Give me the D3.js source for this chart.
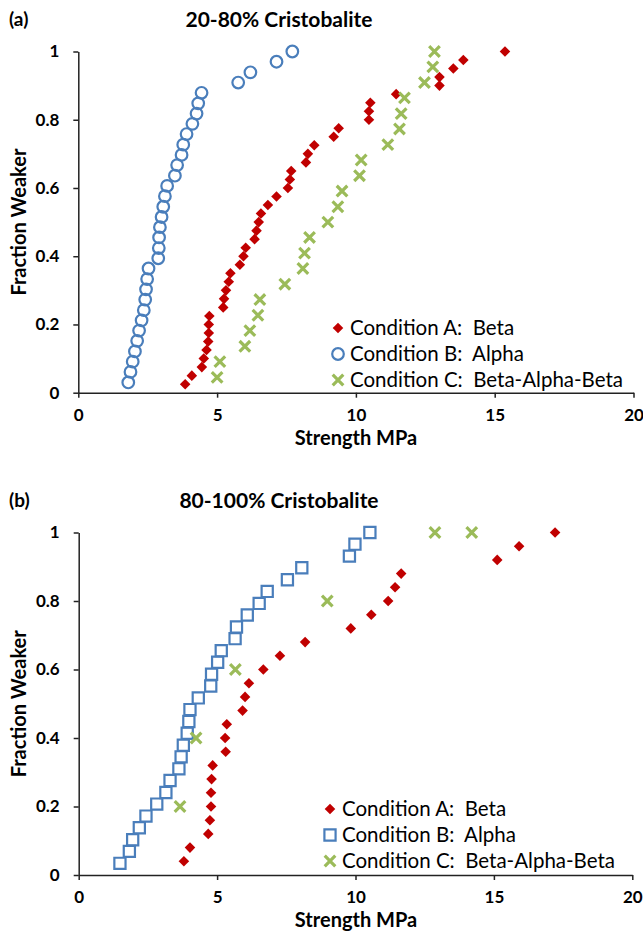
<!DOCTYPE html>
<html>
<head>
<meta charset="utf-8">
<script src="https://cdn.jsdelivr.net/npm/d3@7"></script>
<style>
body { margin: 0; background: #fff; }
text { font-family: Lato, "Open Sans", sans-serif; fill: #000; }
</style>
</head>
<body>
<svg id="chart" width="643" height="940"></svg>
<script>
// ########### DATA ###########

var xTicks = [0, 5, 10, 15, 20]
var yTicks = [0, 0.2, 0.4, 0.6, 0.8, 1]

var legendLabels = ['Condition A:  Beta', 'Condition B:  Alpha', 'Condition C:  Beta-Alpha-Beta']

// (a) 20-80% Cristobalite
var aBetaX = [3.85, 4.09, 4.45, 4.52, 4.62, 4.68, 4.70, 4.70, 4.72, 5.22, 5.25, 5.32, 5.42, 5.48, 5.82, 5.95, 6.03, 6.35, 6.42, 6.50,
  6.58, 6.83, 7.14, 7.55, 7.62, 7.67, 8.20, 8.27, 8.50, 9.20, 9.38, 10.47, 10.47, 10.52, 11.45, 13.01, 13.01, 13.51, 13.87, 15.37]
var aBetaY = [0.025, 0.05, 0.075, 0.1, 0.125, 0.15, 0.175, 0.2, 0.225, 0.25, 0.275, 0.3, 0.325, 0.35, 0.375, 0.4, 0.425, 0.45, 0.475, 0.5,
  0.525, 0.55, 0.575, 0.6, 0.625, 0.65, 0.675, 0.7, 0.725, 0.75, 0.775, 0.8, 0.825, 0.85, 0.875, 0.9, 0.925, 0.95, 0.975, 1]

var aAlphaX = [1.80, 1.88, 1.96, 2.04, 2.12, 2.19, 2.28, 2.36, 2.41, 2.44, 2.48, 2.53, 2.88, 2.90, 2.91, 2.94, 3.00, 3.06, 3.12, 3.20,
  3.48, 3.56, 3.72, 3.78, 3.90, 4.11, 4.26, 4.32, 4.44, 5.76, 6.20, 7.14, 7.71]
var aAlphaY = [0.030, 0.061, 0.091, 0.121, 0.152, 0.182, 0.212, 0.242, 0.273, 0.303, 0.333, 0.364, 0.394, 0.424, 0.455, 0.485, 0.515,
  0.545, 0.576, 0.606, 0.636, 0.667, 0.697, 0.727, 0.758, 0.788, 0.818, 0.848, 0.879, 0.909, 0.939, 0.970, 1.000]

var aBabX = [5.00, 5.10, 6.00, 6.18, 6.47, 6.54, 7.44, 8.09, 8.15, 8.33, 8.99, 9.35, 9.50, 10.13, 10.19, 11.15, 11.57, 11.63, 11.75,
  12.47, 12.77, 12.83]
var aBabY = [0.045, 0.091, 0.136, 0.182, 0.227, 0.273, 0.318, 0.364, 0.409, 0.455, 0.500, 0.545, 0.591, 0.636, 0.682, 0.727, 0.773,
  0.818, 0.864, 0.909, 0.955, 1.000]

// (b) 80-100% Cristobalite
var bBetaX = [3.80, 4.02, 4.68, 4.74, 4.78, 4.78, 4.80, 4.84, 5.31, 5.29, 5.35, 5.92, 6.01, 6.15, 6.67, 7.27, 8.18, 9.83, 10.57, 11.18,
  11.43, 11.65, 15.12, 15.91, 17.21]
var bBetaY = [0.04, 0.08, 0.12, 0.16, 0.2, 0.24, 0.28, 0.32, 0.36, 0.4, 0.44, 0.48, 0.52, 0.56, 0.6, 0.64, 0.68, 0.72, 0.76, 0.8,
  0.84, 0.88, 0.92, 0.96, 1]

var bAlphaX = [1.49, 1.83, 1.95, 2.19, 2.43, 2.82, 3.15, 3.30, 3.62, 3.70, 3.78, 3.92, 3.98, 4.02, 4.32, 4.77, 4.80, 5.02, 5.15, 5.65,
  5.70, 6.09, 6.52, 6.81, 7.54, 8.06, 9.78, 9.98, 10.52]
var bAlphaY = [0.034, 0.069, 0.103, 0.138, 0.172, 0.207, 0.241, 0.276, 0.310, 0.345, 0.379, 0.414, 0.448, 0.483, 0.517, 0.552, 0.586,
  0.621, 0.655, 0.690, 0.724, 0.759, 0.793, 0.828, 0.862, 0.897, 0.931, 0.966, 1.000]

var bBabX = [3.66, 4.24, 5.66, 8.98, 12.87, 14.20]
var bBabY = [0.2, 0.4, 0.6, 0.8, 1.0, 1.0]

// ########### DRAWING ###########

var red = '#c00000', blue = '#4a7ebb', green = '#9bbb59'
var svg = d3.select('#chart')

var zip = function(xs, ys){
  return xs.map(function(v, i){ return {x: v, y: ys[i]} })
}

var diamond = d3.symbol().type(d3.symbolSquare).size(56)()
var square = d3.symbol().type(d3.symbolSquare).size(125)()
var cross = 'M-5.3,-5.3L5.3,5.3M-5.3,5.3L5.3,-5.3'

// marker drawers: (selection) -> styled shapes
var mark_beta = function(sel){
  sel.append('path').attr('d', diamond).attr('fill', red)
    .attr('transform', function(d){ return 'translate(' + d.px + ',' + d.py + ') rotate(45)' })
}
var mark_alpha_circle = function(sel){
  sel.append('circle').attr('r', 5.8).attr('fill', 'none').attr('stroke', blue).attr('stroke-width', 2.2)
    .attr('cx', function(d){ return d.px }).attr('cy', function(d){ return d.py })
}
var mark_alpha_square = function(sel){
  sel.append('path').attr('d', square).attr('fill', 'none').attr('stroke', blue).attr('stroke-width', 2.2)
    .attr('transform', function(d){ return 'translate(' + d.px + ',' + d.py + ')' })
}
var mark_bab = function(sel){
  sel.append('path').attr('d', cross).attr('fill', 'none').attr('stroke', green).attr('stroke-width', 3.2)
    .attr('transform', function(d){ return 'translate(' + d.px + ',' + d.py + ')' })
}

var draw_panel = function(p){
  var x = d3.scaleLinear().domain([0, 20]).range([p.left, p.right])
  var y = d3.scaleLinear().domain([0, 1]).range([p.bottom, p.top])
  var g = svg.append('g')

  // axes
  g.append('g').attr('transform', 'translate(0,' + p.bottom + ')')
    .call(d3.axisBottom(x).tickValues(xTicks).tickSize(5).tickSizeOuter(0).tickPadding(11))
  g.append('g').attr('transform', 'translate(' + p.left + ',0)')
    .call(d3.axisLeft(y).tickValues(yTicks).tickSize(5).tickSizeOuter(0).tickPadding(14)
      .tickFormat(function(d){ return String(+d.toFixed(1)) }))
  g.selectAll('.domain, .tick line').attr('stroke', '#222').attr('stroke-width', 1.5)
  g.selectAll('.tick text').style('font-family', 'Lato, sans-serif').style('font-size', '17px')
    .style('font-weight', 'bold').attr('fill', '#111')

  // titles
  g.append('text').attr('x', 9).attr('y', p.top - 26).text(p.tag)
    .style('font-size', '19px').style('font-weight', 'bold')
  g.append('text').attr('x', 279).attr('y', p.top - 25).attr('text-anchor', 'middle').text(p.title)
    .style('font-size', '21px').style('font-weight', 'bold')
  g.append('text').attr('x', 356).attr('y', p.bottom + 52).attr('text-anchor', 'middle').text('Strength MPa')
    .style('font-size', '20px').style('font-weight', 'bold')
  g.append('text').attr('transform', 'translate(26,' + ((p.top + p.bottom) / 2) + ') rotate(-90)')
    .attr('text-anchor', 'middle').text('Fraction Weaker')
    .style('font-size', '20px').style('font-weight', 'bold')

  // series
  p.series.forEach(function(s){
    var pts = zip(s.xs, s.ys).map(function(d){ return {px: x(d.x), py: y(d.y)} })
    var sel = g.append('g').selectAll('g').data(pts).enter().append('g')
    s.mark(sel)
  })

  // legend
  p.series.forEach(function(s, i){
    var ly = p.legendY + i * 26
    var lg = g.append('g').selectAll('g').data([{px: p.legendX, py: ly}]).enter().append('g')
    s.mark(lg)
    g.append('text').attr('x', p.legendX + 12).attr('y', ly + 7).text(legendLabels[i])
      .style('font-size', '20.5px').style('white-space', 'pre').attr('fill', '#111')
  })
}

draw_panel({
  tag: '(a)', title: '20-80% Cristobalite',
  left: 78.3, right: 633.5, top: 51.5, bottom: 392.7,
  legendX: 338, legendY: 328,
  series: [
    {xs: aBetaX, ys: aBetaY, mark: mark_beta},
    {xs: aAlphaX, ys: aAlphaY, mark: mark_alpha_circle},
    {xs: aBabX, ys: aBabY, mark: mark_bab}
  ]
})

draw_panel({
  tag: '(b)', title: '80-100% Cristobalite',
  left: 78.7, right: 632.3, top: 532.5, bottom: 875,
  legendX: 330, legendY: 809,
  series: [
    {xs: bBetaX, ys: bBetaY, mark: mark_beta},
    {xs: bAlphaX, ys: bAlphaY, mark: mark_alpha_square},
    {xs: bBabX, ys: bBabY, mark: mark_bab}
  ]
})
</script>
</body>
</html>
